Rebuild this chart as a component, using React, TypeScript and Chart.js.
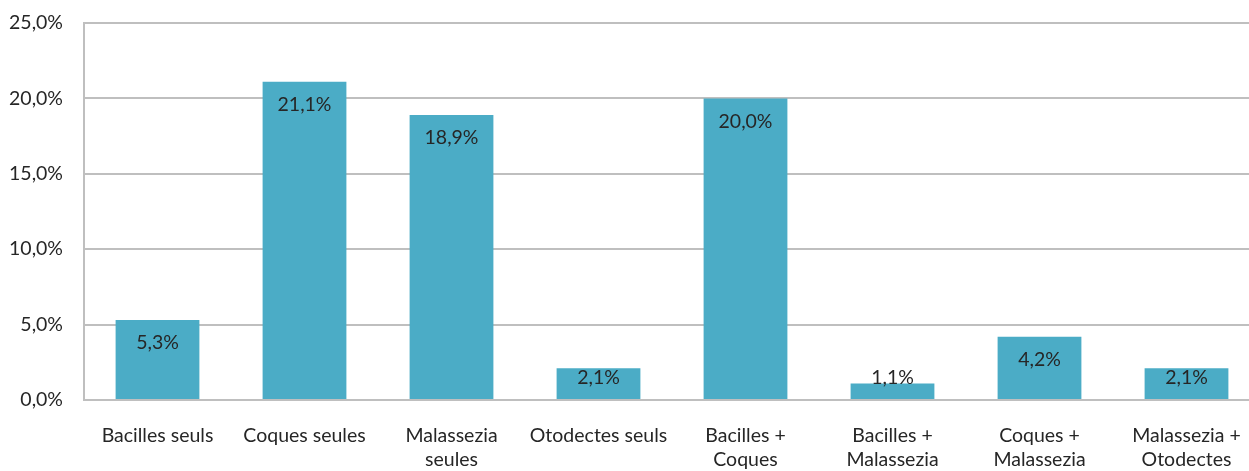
import React, { useEffect, useRef } from "react";
import { Chart, registerables } from "chart.js";

Chart.register(...registerables);

const categories: (string | string[])[] = [
  "Bacilles seuls",
  "Coques seules",
  ["Malassezia", "seules"],
  "Otodectes seuls",
  ["Bacilles +", "Coques"],
  ["Bacilles +", "Malassezia"],
  ["Coques +", "Malassezia"],
  ["Malassezia +", "Otodectes"],
];
const values: number[] = [5.3, 21.1, 18.9, 2.1, 20.0, 1.1, 4.2, 2.1];
const yTicks: number[] = [0, 5, 10, 15, 20, 25];

const FONT = "Lato, 'Open Sans', sans-serif";
const FS = 19.5;
const TEXT = "#262626";
const BAR = "#4BACC6";
const GRID = "#BFBFBF";

const fmt = (v: number) => v.toFixed(1).replace(".", ",") + "%";

const labelPlugin = {
  id: "valueLabels",
  afterDatasetsDraw(chart: any) {
    const { ctx, chartArea } = chart;
    const meta = chart.getDatasetMeta(0);
    ctx.save();
    ctx.font = `${FS}px ${FONT}`;
    ctx.fillStyle = TEXT;
    ctx.textAlign = "center";
    ctx.textBaseline = "middle";
    meta.data.forEach((bar: any, i: number) => {
      const y = Math.min(bar.y + 23, chartArea.bottom - 22);
      ctx.fillText(fmt(values[i]), bar.x, y);
    });
    ctx.restore();
  },
};

export default function App() {
  const ref = useRef<HTMLCanvasElement>(null);
  useEffect(() => {
    document.body.style.margin = "0";
    const chart = new Chart(ref.current!, {
      type: "bar",
      data: {
        labels: categories,
        datasets: [
          {
            data: values,
            backgroundColor: BAR,
            borderWidth: 0,
            categoryPercentage: 1,
            barPercentage: 0.57,
          },
        ],
      },
      options: {
        animation: false,
        responsive: false,
        maintainAspectRatio: false,
        layout: { padding: { top: 23, right: 0, bottom: 0, left: 0 } },
        plugins: { legend: { display: false }, tooltip: { enabled: false } },
        scales: {
          x: {
            grid: { display: false, drawTicks: false },
            border: { display: true, color: GRID, width: 2 },
            ticks: {
              color: TEXT,
              font: { family: FONT, size: FS, lineHeight: 1.23 },
              padding: 24,
              maxRotation: 0,
              autoSkip: false,
            },
            afterFit: (s: any) => {
              s.height = 71;
              s.paddingLeft = 0;
              s.paddingRight = 0;
            },
          },
          y: {
            min: 0,
            max: 25,
            afterBuildTicks: (s: any) => {
              s.ticks = yTicks.map((v) => ({ value: v }));
            },
            grid: { color: GRID, lineWidth: 2, drawTicks: false },
            border: { display: true, color: GRID, width: 2 },
            ticks: {
              color: TEXT,
              font: { family: FONT, size: FS },
              padding: 21,
              callback: (v: any) => fmt(Number(v)),
            },
            afterFit: (s: any) => {
              s.width = 84;
              s.paddingTop = 0;
              s.paddingBottom = 0;
            },
          },
        },
      },
      plugins: [labelPlugin],
    });
    return () => chart.destroy();
  }, []);
  return (
    <div style={{ position: "absolute", left: 0, top: 0, width: 1249, height: 471, overflow: "hidden" }}>
      <canvas ref={ref} width={1260} height={471} />
    </div>
  );
}
